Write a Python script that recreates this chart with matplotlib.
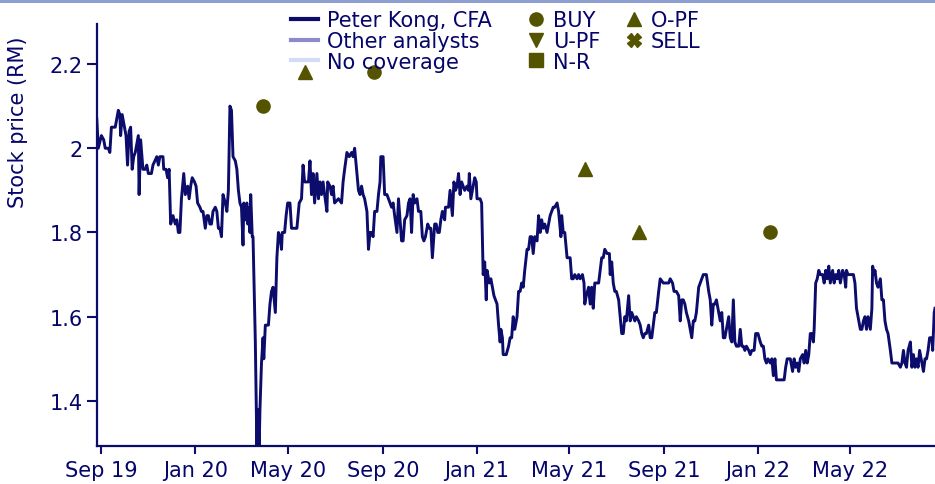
import matplotlib
matplotlib.use('Agg')
import matplotlib.pyplot as plt
import matplotlib.dates as mdates
from matplotlib.lines import Line2D
from matplotlib.patches import Rectangle
from matplotlib.ticker import FuncFormatter
import pandas as pd

# closing price (days counted from 1 Sep 2019)
start = pd.Timestamp('2019-09-01')
days = [
    -6, -4, 0, 3, 5, 9, 11, 13, 18, 20, 22, 24, 25, 27, 30, 32, 34, 36, 38, 40,
    42, 44, 46, 48, 49, 51, 54, 57, 59, 61, 65, 67, 72, 74, 76, 80, 81, 84, 86, 88,
    90, 93, 96, 98, 100, 102, 104, 107, 109, 112, 114, 116, 118, 121, 123, 125, 128, 130, 132, 135,
    137, 139, 141, 143, 145, 148, 150, 152, 154, 156, 158, 161, 163, 165, 167, 169, 171, 174, 176, 178,
    180, 182, 184, 185, 187, 189, 190, 192, 193, 194, 196, 197, 200, 202, 203, 205, 206, 208, 210, 211,
    213, 217, 219, 221, 223, 226, 228, 230, 232, 234, 235, 238, 240, 242, 245, 247, 250, 254, 257, 260,
    262, 264, 267, 269, 271, 273, 275, 277, 280, 282, 284, 286, 288, 290, 293, 294, 297, 299, 301, 303,
    308, 312, 314, 316, 319, 322, 325, 327, 329, 332, 334, 336, 338, 340, 342, 345, 347, 349, 351, 353,
    355, 358, 360, 362, 363, 366, 368, 371, 373, 375, 377, 379, 381, 384, 386, 388, 390, 392, 394, 397,
    399, 401,
    403, 405, 407, 410, 412, 415, 417, 419, 421, 424, 426, 428, 430, 433, 435, 437, 439, 441, 443, 446,
    447, 449, 451, 453, 455, 456, 458, 460, 462, 464, 466, 468, 470, 472, 475, 477, 478, 480, 482, 485,
    487, 488, 492, 494, 495, 496, 498, 500, 501, 504, 506, 508, 510, 512, 514, 516, 518, 519, 521, 522,
    526, 529, 531, 533, 535, 537, 540, 542, 544, 546, 548, 550, 553, 555, 557, 559, 561, 563, 566, 568,
    570, 572, 574, 576, 579, 581, 583, 585, 587, 589, 592, 594, 595, 597, 598, 600, 602, 605, 609, 611,
    613, 615, 618, 620, 622, 625, 627, 628, 630, 633, 635, 637, 639, 641, 643, 646, 648, 650, 652, 654,
    657, 660, 661, 663, 665, 667, 669, 672, 674, 676, 678, 680, 682, 685, 687, 689, 691, 693, 695, 698,
    700, 702, 704, 706, 708, 711, 713, 715, 717, 719, 721, 724, 726, 730, 732, 737, 739, 742, 744, 747,
    750, 752, 754, 756, 758, 760, 763, 765, 767, 769, 771, 773, 776, 778,
    782, 786, 789, 791, 793, 795, 797, 799, 802, 804, 806, 808, 810, 812, 815, 817, 819, 821, 823, 825,
    828, 830, 832, 834, 836, 838, 841, 843, 845, 848, 850, 853, 856, 858, 860, 862, 864, 866, 869, 871,
    873, 875, 877, 879, 884, 887, 889, 891, 893, 895, 898, 900, 902, 904, 906, 908, 911, 913, 915, 917,
    919, 921, 923, 925, 926, 928, 930, 932, 934, 937, 939, 941, 943, 945, 947, 950, 952, 954, 956, 958,
    960, 963, 965, 967, 968, 970, 973, 975, 977, 979, 981, 983, 986, 988, 990, 992, 994, 996, 999, 1001,
    1002, 1004, 1005, 1007, 1009, 1012, 1014, 1016, 1018, 1020, 1022, 1025, 1027, 1031, 1035, 1038, 1040, 1042, 1044, 1046,
    1048, 1051, 1053, 1055, 1057, 1059, 1061, 1063, 1066, 1068, 1070, 1072, 1074, 1076, 1079, 1080, 1082, 1083,
]
price = [
    2.07, 2.00, 2.03, 2.02, 2.00, 2.00, 1.99, 2.05, 2.05, 2.07, 2.09, 2.08, 2.03, 2.08, 2.05, 2.03, 1.96, 2.04, 2.05, 1.95,
    1.98, 1.99, 2.01, 2.03, 1.89, 2.02, 1.95, 1.95, 1.96, 1.94, 1.94, 1.96, 1.98, 1.96, 1.98, 1.98, 1.95, 1.95, 1.93, 1.95,
    1.82, 1.84, 1.82, 1.83, 1.80, 1.80, 1.88, 1.94, 1.89, 1.91, 1.88, 1.91, 1.93, 1.92, 1.91, 1.87, 1.86, 1.85, 1.85, 1.81,
    1.84, 1.84, 1.82, 1.82, 1.85, 1.86, 1.85, 1.81, 1.81, 1.79, 1.89, 1.87, 1.85, 1.90, 2.10, 2.09, 1.98, 1.97, 1.95, 1.90,
    1.87, 1.86, 1.77, 1.87, 1.83, 1.87, 1.82, 1.86, 1.80, 1.89, 1.79, 1.79, 1.54, 1.29, 1.38, 1.29, 1.38, 1.49, 1.55, 1.50,
    1.58, 1.58, 1.63, 1.66, 1.67, 1.61, 1.74, 1.80, 1.79, 1.76, 1.80, 1.80, 1.84, 1.87, 1.87, 1.81, 1.81, 1.81, 1.87, 1.88,
    1.96, 1.92, 1.92, 1.92, 1.97, 1.89, 1.94, 1.87, 1.94, 1.88, 1.92, 1.89, 1.92, 1.89, 1.85, 1.92, 1.91, 1.89, 1.91, 1.87,
    1.88, 1.87, 1.92, 1.95, 1.99, 1.98, 1.99, 1.98, 2.00, 1.94, 1.90, 1.89, 1.91, 1.89, 1.88, 1.85, 1.76, 1.80, 1.80, 1.79,
    1.85, 1.85, 1.89, 1.92, 1.98, 1.98, 1.89, 1.89, 1.88, 1.87, 1.86, 1.87, 1.84, 1.80, 1.88, 1.83, 1.78, 1.78, 1.83, 1.84,
    1.87, 1.88,
    1.80, 1.89, 1.87, 1.88, 1.85, 1.85, 1.79, 1.78, 1.79, 1.82, 1.81, 1.81, 1.74, 1.82, 1.82, 1.80, 1.80, 1.83, 1.85, 1.83,
    1.86, 1.86, 1.86, 1.90, 1.86, 1.84, 1.92, 1.90, 1.91, 1.94, 1.89, 1.92, 1.91, 1.90, 1.91, 1.90, 1.94, 1.88, 1.90, 1.93,
    1.92, 1.88, 1.88, 1.87, 1.79, 1.70, 1.73, 1.64, 1.71, 1.68, 1.69, 1.67, 1.65, 1.64, 1.63, 1.58, 1.54, 1.57, 1.55, 1.51,
    1.51, 1.53, 1.55, 1.55, 1.60, 1.57, 1.60, 1.66, 1.66, 1.68, 1.67, 1.71, 1.76, 1.76, 1.79, 1.79, 1.75, 1.79, 1.78, 1.84,
    1.80, 1.83, 1.81, 1.82, 1.80, 1.82, 1.84, 1.85, 1.86, 1.86, 1.87, 1.85, 1.83, 1.79, 1.84, 1.80, 1.80, 1.74, 1.74, 1.69,
    1.69, 1.70, 1.69, 1.70, 1.69, 1.70, 1.68, 1.63, 1.65, 1.67, 1.63, 1.67, 1.62, 1.68, 1.68, 1.68, 1.71, 1.74, 1.74, 1.76,
    1.75, 1.75, 1.70, 1.73, 1.68, 1.66, 1.66, 1.64, 1.60, 1.56, 1.56, 1.60, 1.59, 1.65, 1.59, 1.61, 1.60, 1.59, 1.60, 1.59,
    1.58, 1.56, 1.55, 1.56, 1.56, 1.58, 1.55, 1.55, 1.58, 1.61, 1.61, 1.66, 1.69, 1.68, 1.68, 1.68, 1.69, 1.68, 1.66, 1.66,
    1.65, 1.59, 1.64, 1.64, 1.63, 1.61, 1.59, 1.57, 1.55, 1.59, 1.59, 1.61, 1.67, 1.68,
    1.70, 1.70, 1.66, 1.64, 1.58, 1.63, 1.63, 1.64, 1.61, 1.59, 1.61, 1.55, 1.55, 1.57, 1.60, 1.55, 1.54, 1.64, 1.54, 1.53,
    1.53, 1.57, 1.53, 1.53, 1.52, 1.53, 1.52, 1.51, 1.52, 1.52, 1.56, 1.56, 1.54, 1.53, 1.53, 1.50, 1.49, 1.50, 1.49, 1.50,
    1.46, 1.50, 1.45, 1.45, 1.45, 1.45, 1.48, 1.50, 1.50, 1.50, 1.47, 1.50, 1.48, 1.49, 1.47, 1.50, 1.51, 1.49, 1.52, 1.49,
    1.51, 1.56, 1.56, 1.54, 1.57, 1.68, 1.69, 1.71, 1.70, 1.70, 1.68, 1.71, 1.69, 1.72, 1.68, 1.71, 1.68, 1.70, 1.69, 1.71,
    1.68, 1.71, 1.70, 1.67, 1.71, 1.70, 1.70, 1.70, 1.70, 1.68, 1.62, 1.60, 1.57, 1.57, 1.59, 1.60, 1.57, 1.60, 1.57, 1.62,
    1.72, 1.70, 1.71, 1.68, 1.67, 1.69, 1.64, 1.64, 1.59, 1.57, 1.56, 1.52, 1.49, 1.49, 1.49, 1.48, 1.49, 1.52, 1.49, 1.48,
    1.52, 1.54, 1.48, 1.51, 1.48, 1.50, 1.48, 1.52, 1.49, 1.47, 1.50, 1.50, 1.52, 1.55, 1.55, 1.52, 1.61, 1.62,
]

# rating calls (target price markers)
buy_days = [210, 354, 869]
buy_price = [2.10, 2.18, 1.80]
opf_days = [265, 628, 699]
opf_price = [2.18, 1.95, 1.80]

analyst_labels = ['Peter Kong, CFA', 'Other analysts', 'No coverage']
rating_labels = ['BUY', 'U-PF', 'N-R', 'O-PF', 'SELL']
rating_markers = ['o', 'v', 's', '^', 'X']

navy = '#0c0c6c'
text_col = '#05056a'
olive = '#545400'
analyst_colors = [navy, '#8b8bcc', '#d3dcf2']

dates = start + pd.to_timedelta(days, unit='D')
buy_dates = start + pd.to_timedelta(buy_days, unit='D')
opf_dates = start + pd.to_timedelta(opf_days, unit='D')

fig = plt.figure(figsize=(9.35, 4.85), dpi=100)
ax = fig.add_axes([97 / 935, 38 / 485, 838 / 935, 422 / 485])

ax.plot(dates, price, color=navy, lw=2.1)
ax.plot(buy_dates, buy_price, 'o', color=olive, ms=9.5, ls='none')
ax.plot(opf_dates, opf_price, '^', color=olive, ms=9.5, ls='none')

ax.set_xlim(start - pd.Timedelta(days=5.7), start + pd.Timedelta(days=1083))
ax.set_ylim(1.293, 2.295)
ax.set_yticks([1.4, 1.6, 1.8, 2.0, 2.2])
ax.yaxis.set_major_formatter(FuncFormatter(lambda v, _: f'{v:g}'))
ax.xaxis.set_major_locator(mdates.MonthLocator(bymonth=[1, 5, 9]))
ax.xaxis.set_major_formatter(mdates.DateFormatter('%b %y'))

for side in ['top', 'right']:
    ax.spines[side].set_visible(False)
for side in ['left', 'bottom']:
    ax.spines[side].set_color(navy)
    ax.spines[side].set_linewidth(1.6)
ax.tick_params(axis='both', colors=navy, labelcolor=text_col, labelsize=15,
               width=1.5, direction='out')
ax.tick_params(axis='y', length=7, pad=3)
ax.tick_params(axis='x', length=6, pad=4)

fig.text(18 / 935, 1 - 122 / 485, 'Stock price (RM)', rotation=90,
         ha='center', va='center', fontsize=15, color=text_col)

# thin band along the top edge
fig.add_artist(Rectangle((0, 1 - 4 / 485), 1, 4 / 485, transform=fig.transFigure,
                         facecolor='#8d9ed0', edgecolor='none'))

line_handles = [Line2D([], [], color=c, lw=3) for c in analyst_colors]
leg1 = fig.legend(line_handles, analyst_labels, loc='upper left',
                  bbox_to_anchor=(291 / 935, 1 - 11 / 485), frameon=False,
                  fontsize=15, labelcolor=text_col, borderpad=0, borderaxespad=0,
                  handlelength=1.3, handletextpad=0.43, labelspacing=0.04)

marker_handles = [Line2D([], [], marker=m, color=olive, ls='none', ms=9.5)
                  for m in rating_markers]
leg2 = fig.legend(marker_handles, rating_labels, loc='upper left', ncol=2,
                  bbox_to_anchor=(528 / 935, 1 - 11 / 485), frameon=False,
                  fontsize=15, labelcolor=text_col, borderpad=0, borderaxespad=0,
                  handlelength=0.8, handletextpad=0.4, columnspacing=1.2,
                  labelspacing=0.04)

fig.savefig('out.png', dpi=100)
